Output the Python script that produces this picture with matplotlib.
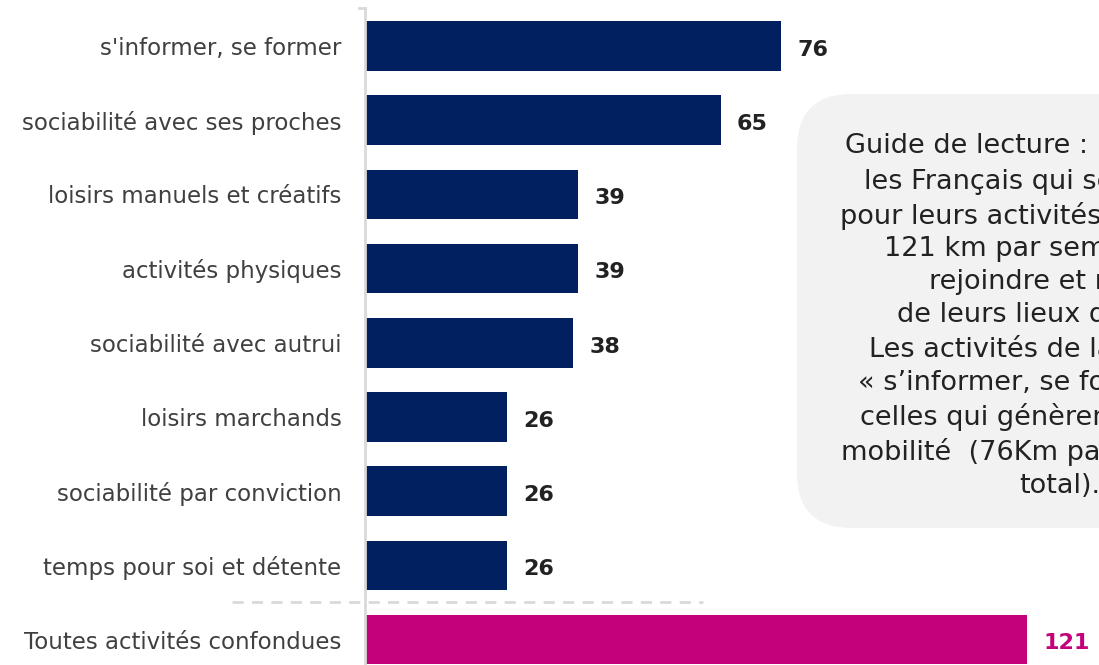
import matplotlib.pyplot as plt
from matplotlib.patches import FancyBboxPatch
from matplotlib.transforms import IdentityTransform

# données (km par semaine)
categories = ["s'informer, se former", "sociabilité avec ses proches",
              "loisirs manuels et créatifs", "activités physiques",
              "sociabilité avec autrui", "loisirs marchands",
              "sociabilité par conviction", "temps pour soi et détente",
              "Toutes activités confondues"]
valeurs = [76, 65, 39, 39, 38, 26, 26, 26, 121]
couleurs = ["#002060"] * 8 + ["#C4007A"]
couleurs_texte = ["#222222"] * 8 + ["#C4007A"]

guide = ("Guide de lecture : En moyenne,\n"
         "les Français qui se déplacent\n"
         "pour leurs activités sociales font\n"
         "121 km par semaine pour\n"
         "rejoindre et revenir\n"
         "de leurs lieux d’activité.\n"
         "Les activités de la catégorie\n"
         "« s’informer, se former » sont\n"
         "celles qui génèrent le plus de\n"
         "mobilité  (76Km par semaine au\n"
         "total).")

plt.rcParams['font.family'] = ['DejaVu Sans']

W, H = 1099, 665
fig = plt.figure(figsize=(W / 100, H / 100), dpi=100)
ax = fig.add_axes([365 / W, 0, 734 / W, 657 / H])

pos = list(range(len(categories)))
ax.barh(pos, valeurs, height=0.67, color=couleurs)
ax.set_xlim(0, 734 / 5.47)
ax.set_ylim(8 + 25.4 / 74.2, -38 / 74.2)

for i, v in enumerate(valeurs):
    ax.text(v + 3, i + 0.05, str(v), ha='left', va='center', fontsize=16,
            fontweight='bold', color=couleurs_texte[i])

ax.set_yticks(pos)
ax.set_yticklabels(categories, fontsize=16.5, color='#404040')
ax.tick_params(axis='y', length=0, pad=17)
ax.set_xticks([])
for s in ['top', 'right', 'bottom']:
    ax.spines[s].set_visible(False)
ax.spines['left'].set_color('#D9D9D9')
ax.spines['left'].set_linewidth(2)
ax.plot([-6 / 734, 0], [1, 1], color='#D9D9D9', lw=2, transform=ax.transAxes,
        clip_on=False)

# séparateur pointillé
ax.plot([-24.3, 61.8], [7.5, 7.5], color='#D9D9D9', lw=2, ls=(0, (4, 3)),
        clip_on=False)

# encadré guide de lecture
box = FancyBboxPatch((797, H - 528), 520, 434,
                     boxstyle="round,pad=0,rounding_size=55",
                     transform=IdentityTransform(), facecolor='#F2F2F2',
                     edgecolor='none')
fig.add_artist(box)
fig.text(1060 / W, 1 - 316 / H, guide, ha='center', va='center',
         multialignment='center', fontsize=19.5, color='#222222',
         linespacing=1.33)

fig.savefig('out.png', dpi=100)
